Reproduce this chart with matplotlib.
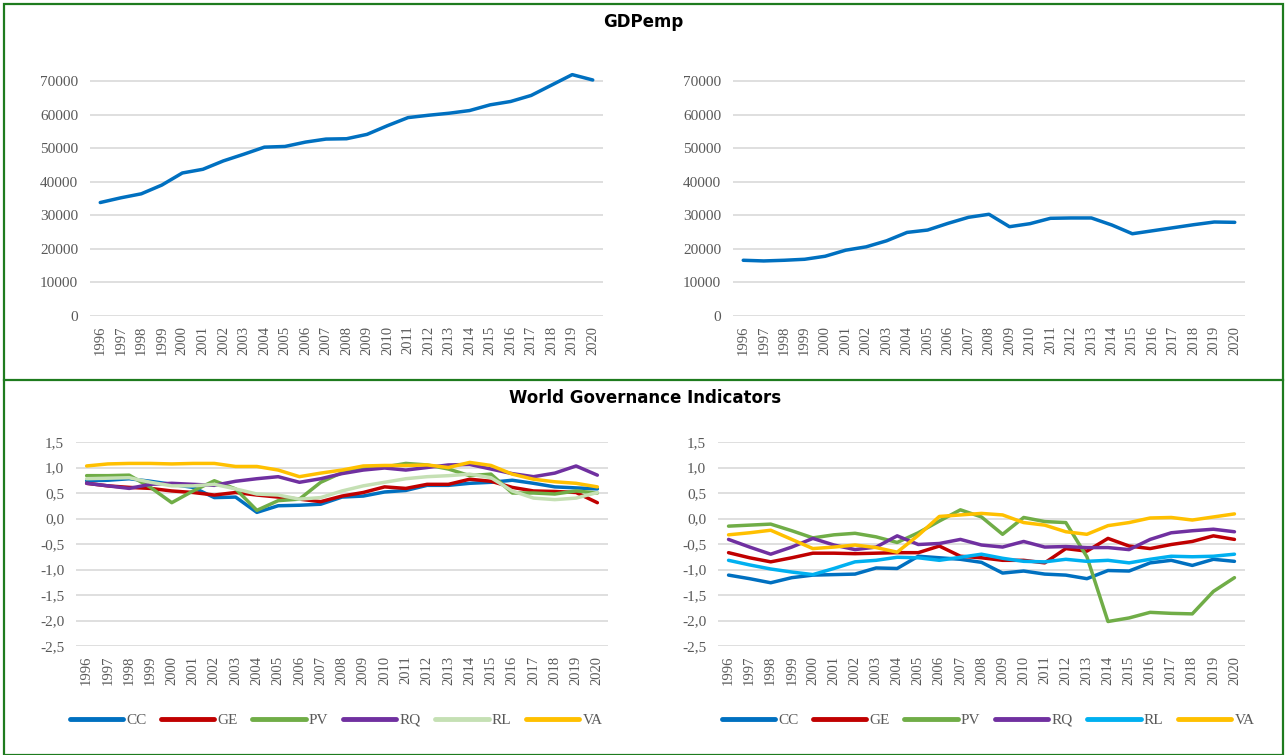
import matplotlib.pyplot as plt
import numpy as np
from matplotlib.lines import Line2D
from matplotlib.patches import Rectangle

years = [str(y) for y in range(1996, 2021)]

# GDP per employed person
gdp_left = [33800, 35200, 36400, 39000, 42600, 43700, 46200, 48200, 50300, 50500,
            51800, 52700, 52800, 54100, 56700, 59100, 59800, 60400, 61200, 62900,
            63900, 65700, 68800, 71900, 70300]
gdp_right = [16600, 16400, 16600, 16900, 17800, 19600, 20600, 22400, 24900, 25600,
             27600, 29400, 30300, 26600, 27500, 29100, 29200, 29200, 27100, 24500,
             25400, 26300, 27200, 28000, 27900]

# World Governance Indicators - left country
cc_l = [0.74, 0.75, 0.78, 0.73, 0.67, 0.61, 0.41, 0.42, 0.12, 0.25, 0.26, 0.28, 0.42,
        0.44, 0.52, 0.55, 0.65, 0.65, 0.69, 0.71, 0.75, 0.69, 0.62, 0.60, 0.58]
ge_l = [0.69, 0.64, 0.61, 0.59, 0.54, 0.51, 0.46, 0.51, 0.46, 0.42, 0.38, 0.33, 0.44,
        0.51, 0.62, 0.59, 0.67, 0.67, 0.77, 0.73, 0.61, 0.54, 0.53, 0.51, 0.31]
pv_l = [0.84, 0.84, 0.85, 0.61, 0.31, 0.54, 0.74, 0.58, 0.16, 0.35, 0.38, 0.71, 0.90,
        0.97, 1.01, 1.08, 1.05, 0.97, 0.84, 0.87, 0.50, 0.50, 0.48, 0.54, 0.50]
rq_l = [0.69, 0.64, 0.59, 0.67, 0.69, 0.67, 0.65, 0.73, 0.78, 0.82, 0.71, 0.78, 0.88,
        0.95, 0.99, 0.95, 1.00, 1.05, 1.06, 0.97, 0.88, 0.82, 0.89, 1.03, 0.85]
rl_l = [0.78, 0.79, 0.80, 0.71, 0.64, 0.64, 0.67, 0.58, 0.48, 0.46, 0.38, 0.41, 0.54,
        0.64, 0.71, 0.78, 0.82, 0.84, 0.87, 0.80, 0.54, 0.40, 0.37, 0.40, 0.51]
va_l = [1.03, 1.07, 1.08, 1.08, 1.07, 1.08, 1.08, 1.02, 1.02, 0.95, 0.82, 0.89, 0.95,
        1.03, 1.04, 1.04, 1.05, 1.00, 1.10, 1.04, 0.87, 0.77, 0.72, 0.69, 0.62]

# World Governance Indicators - right country
cc_r = [-1.11, -1.18, -1.26, -1.16, -1.11, -1.10, -1.09, -0.97, -0.98, -0.74, -0.77,
        -0.80, -0.86, -1.07, -1.03, -1.09, -1.11, -1.18, -1.02, -1.03, -0.87, -0.82,
        -0.92, -0.80, -0.84]
ge_r = [-0.67, -0.77, -0.85, -0.77, -0.68, -0.68, -0.69, -0.68, -0.67, -0.67, -0.54,
        -0.74, -0.77, -0.82, -0.82, -0.87, -0.59, -0.64, -0.39, -0.54, -0.59, -0.51,
        -0.45, -0.34, -0.41]
pv_r = [-0.15, -0.13, -0.11, -0.24, -0.38, -0.32, -0.29, -0.36, -0.47, -0.28, -0.05,
        0.17, 0.03, -0.31, 0.02, -0.06, -0.08, -0.75, -2.02, -1.95, -1.84, -1.86,
        -1.87, -1.43, -1.16]
rq_r = [-0.41, -0.56, -0.70, -0.56, -0.39, -0.52, -0.61, -0.56, -0.34, -0.51, -0.49,
        -0.41, -0.52, -0.56, -0.45, -0.56, -0.55, -0.57, -0.57, -0.61, -0.41, -0.28,
        -0.24, -0.21, -0.26]
rl_r = [-0.82, -0.91, -0.99, -1.05, -1.10, -0.98, -0.85, -0.82, -0.76, -0.77, -0.82,
        -0.76, -0.70, -0.78, -0.84, -0.85, -0.80, -0.84, -0.82, -0.87, -0.80, -0.74,
        -0.75, -0.74, -0.70]
va_r = [-0.32, -0.28, -0.23, -0.41, -0.59, -0.56, -0.52, -0.57, -0.66, -0.33, 0.04,
        0.07, 0.10, 0.07, -0.08, -0.13, -0.26, -0.31, -0.14, -0.08, 0.01, 0.02, -0.03,
        0.03, 0.09]

labels = ['CC', 'GE', 'PV', 'RQ', 'RL', 'VA']
colors_l = ['#0070C0', '#C00000', '#70AD47', '#7030A0', '#C5E0B4', '#FFC000']
colors_r = ['#0070C0', '#C00000', '#70AD47', '#7030A0', '#00B0F0', '#FFC000']

W, H = 1285, 755
fig = plt.figure(figsize=(W / 100, H / 100), dpi=100)
fig.patch.set_facecolor('white')

grey = '#595959'
serif = 'Liberation Serif'
LW = 2.5


def px_axes(x0, x1, y_top, y_bot):
    return fig.add_axes([x0 / W, 1 - y_bot / H, (x1 - x0) / W, (y_bot - y_top) / H])


def style(ax, yticks, ylabels, ylim):
    x = np.arange(len(years))
    ax.set_xlim(-0.5, len(years) - 0.5)
    ax.set_ylim(*ylim)
    ax.set_yticks(yticks)
    ax.set_yticklabels(ylabels, fontfamily=serif, fontsize=11, color=grey)
    ax.set_xticks(x)
    ax.set_xticklabels(years, rotation=90, fontfamily=serif, fontsize=10.5, color=grey)
    ax.tick_params(axis='y', length=0, pad=8.5)
    ax.tick_params(axis='x', length=0, pad=7)
    ax.grid(axis='y', color='#D9D9D9', lw=1.2)
    ax.set_axisbelow(True)
    for s in ax.spines.values():
        s.set_visible(False)


x = np.arange(len(years))

# top: GDPemp
gdp_ticks = list(range(0, 70001, 10000))
gdp_lbls = [str(t) for t in gdp_ticks]
top_ylim = (0, 75000)
y0, y70 = 316, 81
ytop = y0 - (y0 - y70) * top_ylim[1] / 70000

ax1 = px_axes(90, 603, ytop, y0)
style(ax1, gdp_ticks, gdp_lbls, top_ylim)
ax1.plot(x, gdp_left, color='#0070C0', lw=LW, solid_capstyle='round')

ax2 = px_axes(733, 1245, ytop, y0)
style(ax2, gdp_ticks, gdp_lbls, top_ylim)
ax2.plot(x, gdp_right, color='#0070C0', lw=LW, solid_capstyle='round')

# bottom: WGI
wgi_ticks = [1.5, 1.0, 0.5, 0.0, -0.5, -1.0, -1.5, -2.0, -2.5]
wgi_lbls = [f'{t:.1f}'.replace('.', ',') for t in wgi_ticks]

ax3 = px_axes(76, 608, 442, 646)
style(ax3, wgi_ticks, wgi_lbls, (-2.5, 1.5))
for series, c, lab in zip([cc_l, ge_l, pv_l, rq_l, rl_l, va_l], colors_l, labels):
    ax3.plot(x, series, color=c, lw=LW, label=lab, solid_capstyle='round')

ax4 = px_axes(718, 1245, 442, 646)
style(ax4, wgi_ticks, wgi_lbls, (-2.5, 1.5))
for series, c, lab in zip([cc_r, ge_r, pv_r, rq_r, rl_r, va_r], colors_r, labels):
    ax4.plot(x, series, color=c, lw=LW, label=lab, solid_capstyle='round')

for ax, cx in [(ax3, 336), (ax4, 988)]:
    leg = ax.legend(loc='center', bbox_to_anchor=(cx / W, 1 - 720 / H),
                    bbox_transform=fig.transFigure, ncol=6, frameon=False,
                    handlelength=3.5, handletextpad=0.2, columnspacing=0.95,
                    prop={'family': serif, 'size': 11})
    for t in leg.get_texts():
        t.set_color(grey)
    for h in leg.get_lines():
        h.set_linewidth(3.5)

# titles
fig.text(643 / W, 1 - 22 / H, 'GDPemp', ha='center', va='center',
         fontsize=12, fontweight='bold', family='DejaVu Sans')
fig.text(645 / W, 1 - 398 / H, 'World Governance Indicators', ha='center', va='center',
         fontsize=12, fontweight='bold', family='DejaVu Sans')

# green panel borders
green = '#1E7B1E'
fig.add_artist(Rectangle((4 / W, 0), (1283 - 4) / W, 1 - 4 / H, transform=fig.transFigure,
                         fill=False, edgecolor=green, lw=1.6))
fig.add_artist(Line2D([4 / W, 1283 / W], [1 - 380 / H, 1 - 380 / H],
                      transform=fig.transFigure, color=green, lw=1.6))

fig.savefig('out.png', dpi=100)
